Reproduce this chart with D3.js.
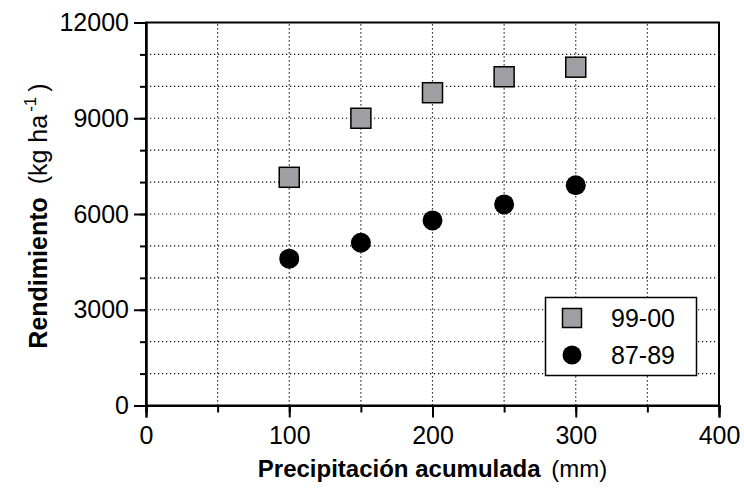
<!DOCTYPE html>
<html>
<head>
<meta charset="utf-8">
<script src="https://cdn.jsdelivr.net/npm/d3@7.9.0/dist/d3.min.js"></script>
<style>
  body { margin: 0; background: #fff; }
  svg { font-family: "Liberation Sans", Arial, sans-serif; }
</style>
</head>
<body>
<div id="chart"></div>
<script>
// --- Data ---
const precip = [100, 150, 200, 250, 300];
const yield9900 = [7150, 9000, 9800, 10300, 10600];
const yield8789 = [4600, 5100, 5800, 6300, 6900];
const xTicks = [0, 100, 200, 300, 400];
const yTicks = [0, 3000, 6000, 9000, 12000];
const seriesNames = ["99-00", "87-89"];

const W = 744, H = 488;
const M = { left: 146, right: 25, top: 22.5, bottom: 82.5 };

const SQUARE_FILL = "#a0a0a4";

const x = d3.scaleLinear().domain([0, 400]).range([M.left, W - M.right]);
const y = d3.scaleLinear().domain([0, 12000]).range([H - M.bottom, M.top]);

const svg = d3.select("#chart").append("svg").attr("width", W).attr("height", H);

// dotted grid
const grid = svg.append("g").attr("stroke", "#000").attr("stroke-width", 1.2)
  .attr("stroke-dasharray", "1.2,2.8");
grid.selectAll("line.v")
  .data(d3.range(50, 400, 50))
  .join("line")
  .attr("class", "v")
  .attr("x1", d => x(d)).attr("x2", d => x(d))
  .attr("y1", y(0)).attr("y2", y(12000));
grid.selectAll("line.h")
  .data(d3.range(1000, 12000, 1000))
  .join("line")
  .attr("class", "h")
  .attr("x1", x(0)).attr("x2", x(400))
  .attr("y1", d => y(d)).attr("y2", d => y(d));

// frame (top & right)
svg.append("rect")
  .attr("x", x(0)).attr("y", y(12000))
  .attr("width", x(400) - x(0)).attr("height", y(0) - y(12000))
  .attr("fill", "none").attr("stroke", "#000").attr("stroke-width", 2);

// axes: minor ticks then major ticks with labels
function styleAxis(g) {
  g.select(".domain").attr("stroke-width", 2);
  g.selectAll(".tick line").attr("stroke-width", 2);
  g.selectAll(".tick text").attr("font-size", 25).attr("fill", "#000")
    .attr("font-family", "Liberation Sans, Arial, sans-serif");
}

svg.append("g")
  .attr("transform", `translate(0,${y(0)})`)
  .call(d3.axisBottom(x).tickValues(d3.range(0, 401, 50)).tickSize(7).tickFormat(""))
  .call(styleAxis);
svg.append("g")
  .attr("transform", `translate(0,${y(0)})`)
  .call(d3.axisBottom(x).tickValues(xTicks).tickSize(12).tickPadding(9).tickFormat(d3.format("d")))
  .call(styleAxis);

svg.append("g")
  .attr("transform", `translate(${x(0)},0)`)
  .call(d3.axisLeft(y).tickValues(d3.range(0, 12001, 1000)).tickSize(6).tickFormat(""))
  .call(styleAxis);
svg.append("g")
  .attr("transform", `translate(${x(0)},0)`)
  .call(d3.axisLeft(y).tickValues(yTicks).tickSize(12).tickPadding(5).tickFormat(d3.format("d")))
  .call(styleAxis);

// markers
const S = 20;
svg.append("g").selectAll("rect")
  .data(precip.map((p, i) => [p, yield9900[i]]))
  .join("rect")
  .attr("x", d => x(d[0]) - S / 2).attr("y", d => y(d[1]) - S / 2)
  .attr("width", S).attr("height", S)
  .attr("fill", SQUARE_FILL).attr("stroke", "#000").attr("stroke-width", 1.5);

svg.append("g").selectAll("circle")
  .data(precip.map((p, i) => [p, yield8789[i]]))
  .join("circle")
  .attr("cx", d => x(d[0])).attr("cy", d => y(d[1]))
  .attr("r", 10).attr("fill", "#000");

// legend
const lg = svg.append("g");
lg.append("rect")
  .attr("x", 545.5).attr("y", 297.5).attr("width", 151).attr("height", 78)
  .attr("fill", "#fff").attr("stroke", "#000").attr("stroke-width", 1.5);
lg.append("rect")
  .attr("x", 572 - 9.5).attr("y", 318 - 9.5).attr("width", 19).attr("height", 19)
  .attr("fill", SQUARE_FILL).attr("stroke", "#000").attr("stroke-width", 1.5);
lg.append("circle").attr("cx", 572).attr("cy", 355).attr("r", 9.5).attr("fill", "#000");
lg.selectAll("text")
  .data(seriesNames)
  .join("text")
  .attr("x", 611).attr("y", (d, i) => 327 + i * 37)
  .attr("font-size", 25).text(d => d);

// axis titles
const xt = svg.append("text")
  .attr("x", (x(0) + x(400)) / 2).attr("y", 477)
  .attr("text-anchor", "middle").attr("font-size", 24);
xt.append("tspan").attr("font-weight", "bold").text("Precipitación acumulada");
xt.append("tspan").attr("dx", 4).text(" (mm)");

const yt = svg.append("text")
  .attr("transform", `translate(47,${(y(0) + y(12000)) / 2 + 2}) rotate(-90)`)
  .attr("text-anchor", "middle").attr("font-size", 25);
yt.append("tspan").attr("font-weight", "bold").text("Rendimiento");
yt.append("tspan").attr("dx", 6).text(" (kg ha");
yt.append("tspan").attr("font-size", 17).attr("dx", 3).attr("dy", -11).text("-1");
yt.append("tspan").attr("dx", 5).attr("dy", 11).text(")");
</script>
</body>
</html>
